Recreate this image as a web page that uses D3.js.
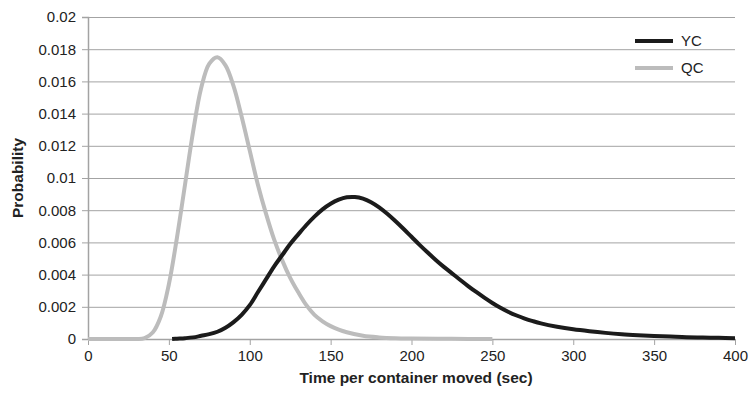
<!DOCTYPE html>
<html>
<head>
<meta charset="utf-8">
<script src="https://cdn.jsdelivr.net/npm/d3@7"></script>
<style>
  html, body { margin: 0; padding: 0; background: #fff; overflow: hidden; }
  svg { display: block; }
  svg text { font-family: "Liberation Sans", Arial, sans-serif; fill: #222; }
</style>
</head>
<body>
<svg id="chart"></svg>
<script>
/* values */
var qcX = [0, 10, 20, 30, 35, 40, 45, 50, 55, 60, 65, 70, 75, 80, 85, 90, 95, 100, 105, 110, 115, 120, 125, 130, 135, 140, 145, 150, 155, 160, 170, 180, 190, 200, 225, 250];
var qcY = [0, 0, 0, 0, 0.00005, 0.0004, 0.0014, 0.0034, 0.0063, 0.0096, 0.0129, 0.0156, 0.0171, 0.0175, 0.0170, 0.0157, 0.0138, 0.0117, 0.0096, 0.0078, 0.0062, 0.0049, 0.0038, 0.0029, 0.0021, 0.0015, 0.0011, 0.0008, 0.00058, 0.00042, 0.0002, 0.0001, 0.00005, 0.00003, 0.00001, 0];

var ycX = [52, 55, 60, 65, 70, 75, 80, 85, 90, 95, 100, 105, 110, 115, 120, 125, 130, 135, 140, 145, 150, 155, 160, 165, 170, 175, 180, 185, 190, 195, 200, 205, 210, 215, 220, 225, 230, 235, 240, 245, 250, 255, 260, 265, 270, 275, 280, 290, 300, 310, 320, 330, 340, 350, 360, 370, 380, 390, 400];
var ycY = [0, 0.00002, 0.00005, 0.0001, 0.0002, 0.0003, 0.00045, 0.0007, 0.00105, 0.0015, 0.0021, 0.0029, 0.0037, 0.0045, 0.0052, 0.0059, 0.0065, 0.00708, 0.0076, 0.00805, 0.0084, 0.00865, 0.0088, 0.00882, 0.00872, 0.0085, 0.00818, 0.00778, 0.00733, 0.00685, 0.00635, 0.00585, 0.00537, 0.00491, 0.00448, 0.00408, 0.00368, 0.00329, 0.00292, 0.00257, 0.00224, 0.00194, 0.00168, 0.00146, 0.00127, 0.00111, 0.00097, 0.00076, 0.0006, 0.00048, 0.00038, 0.0003, 0.00024, 0.00019, 0.00015, 0.00011, 0.00009, 0.00007, 0.00005];

var xTicks = [0, 50, 100, 150, 200, 250, 300, 350, 400];
var yTicks = [0, 0.002, 0.004, 0.006, 0.008, 0.01, 0.012, 0.014, 0.016, 0.018, 0.02];

var seriesNames = ["YC", "QC"];
var seriesColors = ["#1b1b1b", "#bcbcbc"];

var xLegend = "Time per container moved (sec)",
    yLegend = "Probability";

/* settings */
var width = 750,
    height = 395,
    margin = { top: 17, right: 15, bottom: 56, left: 88 },
    innerWidth = width - margin.left - margin.right,
    innerHeight = height - margin.top - margin.bottom,
    fontSize = "15px";

var svg = d3.select("#chart")
    .attr("width", width)
    .attr("height", height);

var g = svg.append("g")
    .attr("transform", "translate(" + margin.left + "," + margin.top + ")");

var xScale = d3.scaleLinear().domain([0, 400]).range([0, innerWidth]);
var yScale = d3.scaleLinear().domain([0, 0.02]).range([innerHeight, 0]);

/* grid + y axis */
var yAxis = d3.axisLeft(yScale)
    .tickValues(yTicks)
    .tickSize(6)
    .tickPadding(6)
    .tickFormat(function (d) { return String(+d.toFixed(3)); });

var yAxisG = g.append("g").attr("class", "y-axis").call(yAxis);
yAxisG.selectAll(".tick line")
    .attr("x1", -6)
    .attr("x2", innerWidth)
    .attr("stroke", "#a3a3a3");
yAxisG.select(".domain").attr("stroke", "#a3a3a3").attr("stroke-width", 1.5);
yAxisG.selectAll("text").style("font-size", fontSize);

/* x axis */
var xAxis = d3.axisBottom(xScale)
    .tickValues(xTicks)
    .tickSize(6)
    .tickPadding(5)
    .tickSizeOuter(0);

var xAxisG = g.append("g")
    .attr("class", "x-axis")
    .attr("transform", "translate(0," + innerHeight + ")")
    .call(xAxis);
xAxisG.select(".domain").attr("stroke", "#a3a3a3").attr("stroke-width", 1.5);
xAxisG.selectAll(".tick line").attr("stroke", "#a3a3a3");
xAxisG.selectAll("text").style("font-size", fontSize);

g.selectAll(".tick text").attr("fill", "#222");

/* axis titles */
g.append("text")
    .attr("x", 416 - margin.left)
    .attr("y", innerHeight + 44)
    .attr("text-anchor", "middle")
    .style("font-size", "15.5px")
    .style("font-weight", "bold")
    .text(xLegend);

g.append("text")
    .attr("transform", "rotate(-90)")
    .attr("x", -(178 - margin.top))
    .attr("y", -65)
    .attr("text-anchor", "middle")
    .style("font-size", "15.5px")
    .style("font-weight", "bold")
    .text(yLegend);

/* curves */
var line = d3.line()
    .x(function (d) { return xScale(d[0]); })
    .y(function (d) { return yScale(d[1]); })
    .curve(d3.curveCatmullRom.alpha(0.5));

var series = [
    d3.zip(ycX, ycY),
    d3.zip(qcX, qcY)
];

// QC drawn underneath YC
g.append("path")
    .datum(series[1])
    .attr("fill", "none")
    .attr("stroke", seriesColors[1])
    .attr("stroke-width", 4)
    .attr("d", line);

g.append("path")
    .datum(series[0])
    .attr("fill", "none")
    .attr("stroke", seriesColors[0])
    .attr("stroke-width", 4)
    .attr("d", line);

/* legend */
var legend = svg.append("g").attr("transform", "translate(635,41)");
seriesNames.forEach(function (name, i) {
    var row = legend.append("g").attr("transform", "translate(0," + (i * 27) + ")");
    row.append("line")
        .attr("x1", 0).attr("x2", 38)
        .attr("stroke", seriesColors[i])
        .attr("stroke-width", 4);
    row.append("text")
        .attr("x", 46)
        .attr("y", 5)
        .style("font-size", fontSize)
        .text(name);
});
</script>
</body>
</html>
